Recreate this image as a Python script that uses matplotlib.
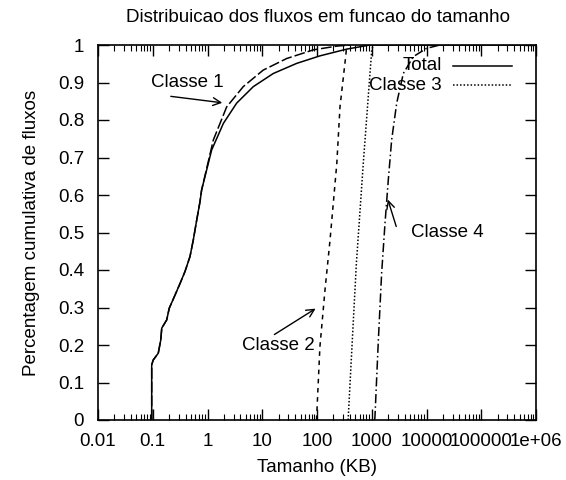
import matplotlib
matplotlib.use("Agg")
import matplotlib.pyplot as plt
from matplotlib.lines import Line2D
from matplotlib.ticker import FixedLocator, LogLocator, NullFormatter

plt.rcParams['font.family'] = ['Liberation Sans', 'DejaVu Sans']
plt.rcParams['font.size'] = 13.5

# Flow size (KB) vs cumulative fraction of flows
total_x = [0.0957, 0.0957, 0.102, 0.126, 0.140, 0.146, 0.18, 0.20, 0.255, 0.315,
           0.388, 0.479, 0.55, 0.635, 0.729, 0.78, 1.19, 1.95, 3.41, 6.87,
           15.9, 42.6, 113, 348, 929, 1e6]
total_y = [0.0, 0.147, 0.160, 0.178, 0.213, 0.245, 0.267, 0.298, 0.333, 0.364,
           0.396, 0.436, 0.48, 0.533, 0.582, 0.613, 0.72, 0.791, 0.845, 0.889,
           0.924, 0.951, 0.971, 0.989, 1.0, 1.0]

classe1_x = [0.0957, 0.0957, 0.102, 0.126, 0.140, 0.146, 0.18, 0.20, 0.255, 0.315,
             0.388, 0.479, 0.55, 0.635, 0.729, 0.78, 1.28, 2.24, 4.5, 10.4,
             28, 85.6, 229, 400]
classe1_y = [0.0, 0.147, 0.160, 0.178, 0.213, 0.245, 0.267, 0.298, 0.333, 0.364,
             0.396, 0.436, 0.48, 0.533, 0.582, 0.613, 0.747, 0.835, 0.889, 0.933,
             0.964, 0.987, 0.997, 1.0]

classe2_x = [98, 113, 140, 173, 230, 263, 334, 350]
classe2_y = [0.0, 0.195, 0.347, 0.48, 0.684, 0.835, 0.969, 1.0]

classe3_x = [370, 524, 700, 1000, 1070]
classe3_y = [0.0, 0.418, 0.684, 0.987, 1.0]

classe4_x = [1130, 1145, 1320, 1515, 1745, 2005, 2310, 2855, 3770, 5750, 10000, 17600]
classe4_y = [0.0, 0.009, 0.213, 0.391, 0.524, 0.64, 0.747, 0.845, 0.924, 0.969, 0.991, 1.0]

x_ticks = [0.01, 0.1, 1, 10, 100, 1000, 10000, 100000, 1e6]
x_tick_labels = ['0.01', '0.1', '1', '10', '100', '1000', '10000', '100000', '1e+06']
y_ticks = [0, 0.1, 0.2, 0.3, 0.4, 0.5, 0.6, 0.7, 0.8, 0.9, 1]
y_tick_labels = ['0', '0.1', '0.2', '0.3', '0.4', '0.5', '0.6', '0.7', '0.8', '0.9', '1']

fig = plt.figure(figsize=(5.66, 4.8), dpi=100)
ax = fig.add_axes([98 / 566, 1 - 420 / 480, 438 / 566, 375 / 480])

lw = 1.1
ax.plot(total_x, total_y, color='black', lw=lw, ls='-')
ax.plot(classe1_x, classe1_y, color='black', lw=lw, ls=(0, (7, 2)))
ax.plot(classe2_x, classe2_y, color='black', lw=lw, ls=(0, (3, 3)))
ax.plot(classe3_x, classe3_y, color='black', lw=lw, ls=(0, (1, 1.3)))
ax.plot(classe4_x, classe4_y, color='black', lw=lw, ls=(0, (6, 2, 1, 2)))

ax.set_xscale('log')
ax.set_xlim(0.01, 1e6)
ax.set_ylim(0, 1)
ax.xaxis.set_major_locator(FixedLocator(x_ticks))
ax.set_xticklabels(x_tick_labels)
ax.xaxis.set_minor_locator(LogLocator(base=10, subs=range(2, 10), numticks=100))
ax.xaxis.set_minor_formatter(NullFormatter())
ax.set_yticks(y_ticks)
ax.set_yticklabels(y_tick_labels)

ax.tick_params(which='major', direction='in', top=True, right=True, length=8, width=1)
ax.tick_params(which='minor', direction='in', top=True, right=True, length=4, width=0.8)
ax.tick_params(axis='x', which='major', pad=9)
ax.tick_params(axis='y', which='major', pad=10)
for s in ax.spines.values():
    s.set_linewidth(1.2)

ax.set_xlabel('Tamanho (KB)', labelpad=7)
ax.set_ylabel('Percentagem cumulativa de fluxos', labelpad=13)
fig.text(318 / 566, 1 - 17 / 480, 'Distribuicao dos fluxos em funcao do tamanho',
         ha='center', va='center')

# key (only two entries shown)
ax.text(0.785, 0.944, 'Total', transform=ax.transAxes, ha='right', va='center')
ax.text(0.785, 0.893, 'Classe 3', transform=ax.transAxes, ha='right', va='center')
ax.add_line(Line2D([0.811, 0.945], [0.944, 0.944], transform=ax.transAxes,
                   color='black', lw=lw, ls='-'))
ax.add_line(Line2D([0.811, 0.945], [0.893, 0.893], transform=ax.transAxes,
                   color='black', lw=lw, ls=(0, (1, 1.3))))

arrow = dict(arrowstyle='->', color='black', lw=1.0, mutation_scale=14)
ax.text(0.42, 0.899, 'Classe 1', ha='center', va='center')
ax.annotate('', xy=(2.09, 0.845), xytext=(0.19, 0.864), arrowprops=arrow)
ax.text(19.4, 0.20, 'Classe 2', ha='center', va='center')
ax.annotate('', xy=(104, 0.301), xytext=(15.1, 0.224), arrowprops=arrow)
ax.text(23660, 0.499, 'Classe 4', ha='center', va='center')
ax.annotate('', xy=(1900, 0.595), xytext=(2900, 0.509), arrowprops=arrow)

fig.savefig('out.png', dpi=100)
